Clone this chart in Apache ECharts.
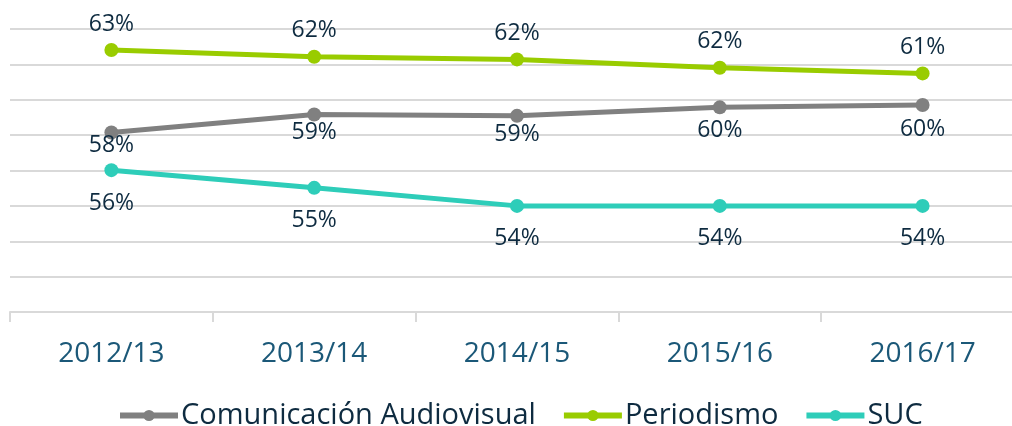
<!DOCTYPE html>
<html>
<head>
<meta charset="utf-8">
<script src="https://cdn.jsdelivr.net/npm/echarts@6/dist/echarts.min.js"></script>
<style>
html,body{margin:0;padding:0;background:#fff;overflow:hidden;width:1012px;height:426px;}
#chart{width:1026px;height:426px;}
</style>
</head>
<body>
<div id="chart"></div>
<script>
// ---- data ----
const categories = ['2012/13', '2013/14', '2014/15', '2015/16', '2016/17'];
const seriesNames = ['Comunicación Audiovisual', 'Periodismo', 'SUC'];
const comunicacion = [58.15, 59.17, 59.09, 59.57, 59.70];
const periodismo = [62.81, 62.43, 62.28, 61.81, 61.49];
const suc = [56.02, 55.02, 54.0, 54.0, 54.0];

// ---- styling ----
const colors = ['#808080', '#99CC00', '#2ECDB9'];
const labelColor = '#0E2B40';
const axisLabelColor = '#1B5878';
const font = 'Open Sans';
// small vertical label nudges (px) for the grey series, as placed in the original
const comLabelNudge = [-6, -1, 0, 4, 5];

function pct(p) { return Math.round(p.value) + '%'; }

function mkSeries(name, values, color, position, distance, nudge) {
  const data = values.map(function (v, i) {
    return nudge ? { value: v, label: { offset: [0, nudge[i]] } } : v;
  });
  return {
    name: name,
    type: 'line',
    data: data,
    symbol: 'circle',
    symbolSize: 14,
    color: color,
    lineStyle: { width: 5, color: color },
    itemStyle: { color: color },
    label: {
      show: true,
      position: position,
      distance: distance,
      formatter: pct,
      color: labelColor,
      fontFamily: font,
      fontSize: 23,
      lineHeight: 24
    },
    emphasis: { disabled: true },
    animation: false
  };
}

const chart = echarts.init(document.getElementById('chart'), null, { renderer: 'canvas' });
chart.setOption({
  backgroundColor: '#ffffff',
  animation: false,
  grid: { left: 10, top: 29, width: 1014, height: 283 },
  legend: {
    data: seriesNames,
    top: 396,
    left: 112,
    itemWidth: 58,
    itemHeight: 14,
    itemGap: 25,
    lineStyle: { width: 6 },
    textStyle: { color: labelColor, fontFamily: font, fontSize: 29, padding: [0, 0, 0, -2] }
  },
  xAxis: {
    type: 'category',
    data: categories,
    boundaryGap: true,
    axisLine: { show: true, lineStyle: { color: '#D9D9D9', width: 2 } },
    axisTick: { show: true, length: 10, lineStyle: { color: '#D9D9D9', width: 2 } },
    axisLabel: { color: axisLabelColor, fontFamily: font, fontSize: 28, lineHeight: 28, margin: 28 }
  },
  yAxis: {
    type: 'value',
    min: 48,
    max: 64,
    interval: 2,
    axisLabel: { show: false },
    axisLine: { show: false },
    axisTick: { show: false },
    splitLine: { lineStyle: { color: '#D9D9D9', width: 2 } }
  },
  series: [
    mkSeries(seriesNames[0], comunicacion, colors[0], 'bottom', 0, comLabelNudge),
    mkSeries(seriesNames[1], periodismo, colors[1], 'top', 7),
    mkSeries(seriesNames[2], suc, colors[2], 'bottom', 14)
  ]
});
</script>
</body>
</html>
